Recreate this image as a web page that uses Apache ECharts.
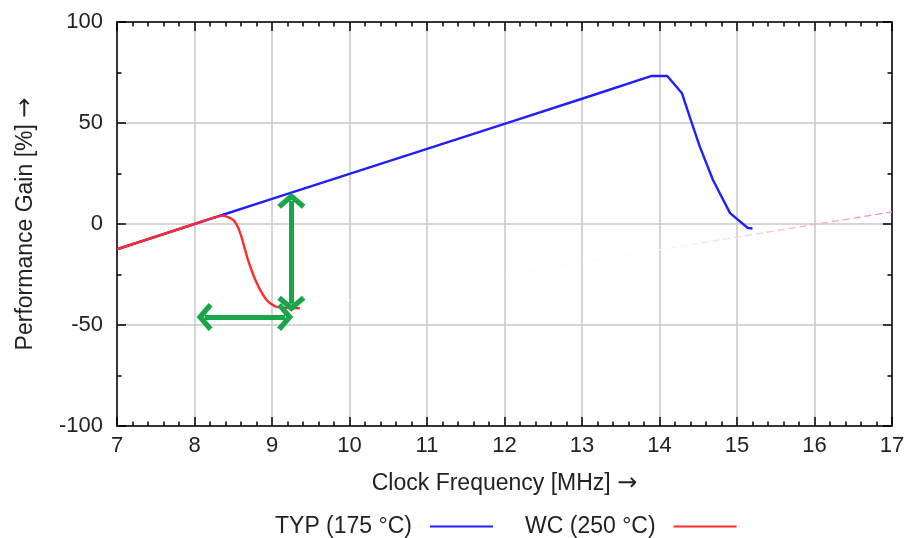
<!DOCTYPE html>
<html><head><meta charset="utf-8">
<script src="https://cdn.jsdelivr.net/npm/echarts@6/dist/echarts.min.js"></script>
<style>html,body{margin:0;padding:0;background:#fff}#c{width:908px;height:538px}</style>
</head><body><div id="c"></div>
<script>
// ---- data ----
var typX = [7, 8, 9, 10, 11, 12, 13, 13.9, 14.1, 14.29, 14.39, 14.52, 14.69, 14.91, 15.14, 15.2];
var typY = [-12.5, 0, 12.4, 24.8, 37.2, 49.6, 62, 73.3, 73.3, 64.7, 53, 38.3, 21.8, 5.4, -2, -2.2];
var wcX = [7, 8, 8.37, 8.5, 8.59, 8.69, 8.8, 8.93, 9.06, 9.36];
var wcY = [-12.5, 0, 4, 2, -4.5, -17.8, -29, -37.6, -41, -41.7];
var fadeX = [9.36, 17];
var fadeY = [-41.7, 6];
var arrowV = [[9.25, 11.5], [9.25, -39.5]];
var arrowH = [[8.13, -46], [9.17, -46]];
var seriesNames = ['TYP (175 °C)', 'WC (250 °C)'];
var xTitle = 'Clock Frequency [MHz] {a|→}';
var yTitle = 'Performance Gain [%] {a|→}';

function pairs(xs, ys) { return xs.map(function (x, i) { return [x, ys[i]]; }); }

var FONT = '"Liberation Sans", Arial, sans-serif';
var chev = 'path://M14,0 L28,12 L24.5,16 L14,7 L3.5,16 L0,12 Z';
var green = '#19a64b';
var arrowRich = { a: { fontFamily: '"DejaVu Sans"', fontSize: 24, color: '#222' } };

var chart = echarts.init(document.getElementById('c'));
var axisCommon = {
  axisLine: { show: true, onZero: false, lineStyle: { color: '#000', width: 1.5 } },
  axisTick: { show: true, inside: true, length: 9, lineStyle: { color: '#000', width: 1.5 } },
  minorTick: { show: true, length: 4.5, lineStyle: { color: '#000', width: 1.5 } }
};
chart.setOption({
  animation: false,
  grid: { left: 117, right: 16, top: 22, bottom: 112 },
  xAxis: [
    Object.assign({
      type: 'value', min: 7, max: 17, interval: 1, position: 'bottom',
      name: xTitle, nameLocation: 'middle', nameGap: 46,
      nameTextStyle: { fontFamily: FONT, fontSize: 23, color: '#222', rich: arrowRich },
      axisLabel: { fontFamily: FONT, fontSize: 22, color: '#222', margin: 9 },
      splitLine: { show: true, lineStyle: { color: '#c8c8c8', width: 1.5 } }
    }, axisCommon, { minorTick: Object.assign({ splitNumber: 5 }, axisCommon.minorTick) }),
    Object.assign({
      type: 'value', min: 7, max: 17, interval: 1, position: 'top',
      axisLabel: { show: false }, splitLine: { show: false }
    }, axisCommon, { minorTick: Object.assign({ splitNumber: 5 }, axisCommon.minorTick) })
  ],
  yAxis: [
    Object.assign({
      type: 'value', min: -100, max: 100, interval: 50, position: 'left',
      name: yTitle, nameLocation: 'middle', nameGap: 79, nameRotate: 90,
      nameTextStyle: { fontFamily: FONT, fontSize: 23, color: '#222', rich: arrowRich },
      axisLabel: { fontFamily: FONT, fontSize: 22, color: '#222', margin: 14 },
      splitLine: { show: true, lineStyle: { color: '#c8c8c8', width: 1.5 } }
    }, axisCommon, { minorTick: Object.assign({ splitNumber: 2 }, axisCommon.minorTick) }),
    Object.assign({
      type: 'value', min: -100, max: 100, interval: 50, position: 'right',
      axisLabel: { show: false }, splitLine: { show: false }
    }, axisCommon, { minorTick: Object.assign({ splitNumber: 2 }, axisCommon.minorTick) })
  ],
  legend: {
    left: 270, top: 510, align: 'right', itemWidth: 63, itemHeight: 10, itemGap: 32,
    icon: 'path://M0,4 L62,4 L62,6 L0,6 Z',
    textStyle: { fontFamily: FONT, fontSize: 23, color: '#222', padding: [0, 13, 0, 0] },
    data: seriesNames
  },
  series: [
    {
      name: 'fade', type: 'line', data: pairs(fadeX, fadeY), symbol: 'none', silent: true,
      lineStyle: { width: 1.3, type: [7, 4], color: new echarts.graphic.LinearGradient(0, 0, 1, 0, [
        { offset: 0, color: 'rgba(255,255,255,1)' },
        { offset: 0.6, color: 'rgba(255,248,252,1)' },
        { offset: 1, color: 'rgba(255,130,195,1)' }]) }
    },
    {
      name: seriesNames[0], type: 'line', data: pairs(typX, typY), symbol: 'none',
      lineStyle: { color: '#1f1fff', width: 2.4 }, itemStyle: { color: '#1f1fff' }
    },
    {
      name: seriesNames[1], type: 'line', data: pairs(wcX, wcY), symbol: 'none', smooth: 0.25,
      lineStyle: { color: '#ff2b2b', width: 2.4 }, itemStyle: { color: '#ff2b2b' },
      markLine: {
        silent: true, symbol: [chev, chev], symbolSize: [28, 16],
        label: { show: false },
        lineStyle: { color: green, width: 5, type: 'solid' },
        data: [
          [{ coord: arrowV[0] }, { coord: arrowV[1] }],
          [{ coord: arrowH[0] }, { coord: arrowH[1] }]
        ]
      }
    }
  ]
});
</script></body></html>
